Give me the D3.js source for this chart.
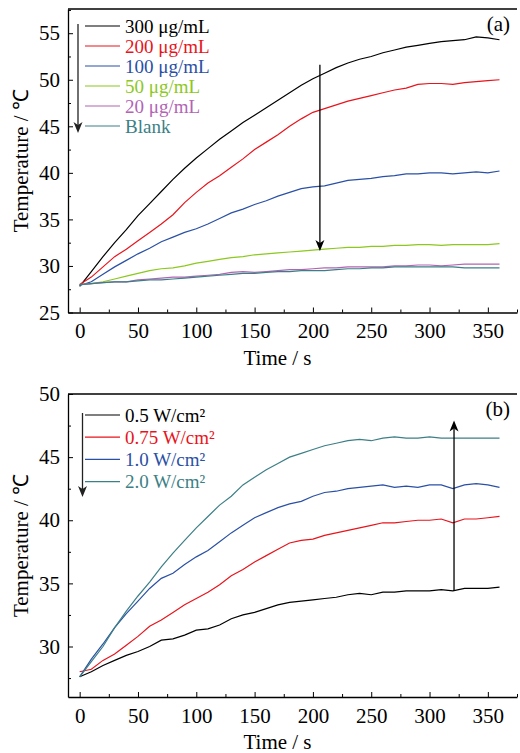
<!DOCTYPE html>
<html>
<head>
<meta charset="utf-8">
<script src="https://d3js.org/d3.v7.min.js"></script>
<style>
  body { margin: 0; background: #fff; }
  svg text { font-family: "Liberation Serif", "Times New Roman", serif; }
</style>
</head>
<body>
<svg id="vis" width="520" height="753"></svg>
<script>
// time axis (s), shared by both panels
var time = [0,10,20,30,40,50,60,70,80,90,100,110,120,130,140,150,160,170,180,190,200,
            210,220,230,240,250,260,270,280,290,300,310,320,330,340,350,360];

// panel (a): concentration series
var namesA = ["300 \u03bcg/mL", "200 \u03bcg/mL", "100 \u03bcg/mL", "50 \u03bcg/mL", "20 \u03bcg/mL", "Blank"];
var colorsA = ["#000000", "#e8141c", "#2a50a5", "#8cc81e", "#b264b4", "#3c7f86"];
var c300 = [27.8,29.4,31.0,32.5,33.9,35.4,36.7,38.0,39.3,40.5,41.6,42.6,43.6,44.5,45.4,46.2,47.0,47.8,48.6,49.4,50.1,
            50.7,51.3,51.8,52.2,52.5,52.9,53.2,53.5,53.7,53.9,54.1,54.2,54.3,54.6,54.5,54.3];
var c200 = [28.0,28.8,29.9,31.0,31.8,32.7,33.6,34.5,35.5,36.8,37.9,38.9,39.7,40.6,41.5,42.5,43.3,44.1,45.0,45.8,46.5,
            46.9,47.3,47.7,48.0,48.3,48.6,48.9,49.1,49.5,49.6,49.6,49.5,49.7,49.8,49.9,50.0];
var c100 = [27.9,28.3,29.1,29.9,30.6,31.3,31.9,32.6,33.1,33.6,34.0,34.5,35.1,35.7,36.1,36.6,37.0,37.5,37.9,38.3,38.5,
            38.6,38.9,39.2,39.3,39.4,39.6,39.7,39.9,39.9,40.0,40.0,39.9,40.0,40.1,40.0,40.2];
var c50  = [28.0,28.1,28.3,28.6,28.9,29.2,29.5,29.7,29.8,30.0,30.3,30.5,30.7,30.9,31.0,31.2,31.3,31.4,31.5,31.6,31.7,
            31.8,31.9,32.0,32.0,32.1,32.1,32.2,32.2,32.3,32.3,32.2,32.3,32.3,32.3,32.3,32.4];
var c20  = [28.0,28.1,28.2,28.3,28.3,28.5,28.6,28.7,28.8,28.8,28.9,29.0,29.1,29.3,29.4,29.3,29.4,29.5,29.6,29.6,29.7,
            29.8,29.8,29.9,29.9,29.9,29.9,30.0,30.0,30.1,30.1,30.0,30.1,30.2,30.2,30.2,30.2];
var blank = [28.0,28.1,28.2,28.3,28.3,28.4,28.5,28.5,28.6,28.7,28.8,28.9,29.0,29.1,29.2,29.2,29.3,29.4,29.4,29.5,29.5,
            29.5,29.6,29.7,29.7,29.8,29.8,29.9,29.9,29.9,29.9,29.9,29.9,29.8,29.8,29.8,29.8];

// panel (b): laser power density series
var namesB = ["0.5 W/cm\u00b2", "0.75 W/cm\u00b2", "1.0 W/cm\u00b2", "2.0 W/cm\u00b2"];
var colorsB = ["#000000", "#e8141c", "#2a50a5", "#3c7f86"];
var p05 = [27.6,28.0,28.5,28.9,29.3,29.6,30.0,30.5,30.6,30.9,31.3,31.4,31.7,32.2,32.5,32.7,33.0,33.3,33.5,33.6,33.7,
           33.8,33.9,34.1,34.2,34.1,34.3,34.3,34.4,34.4,34.4,34.5,34.4,34.6,34.6,34.6,34.7];
var p075 = [28.0,28.2,28.9,29.4,30.1,30.8,31.6,32.1,32.7,33.3,33.8,34.3,34.9,35.6,36.1,36.7,37.2,37.7,38.2,38.4,38.5,
           38.8,39.0,39.2,39.4,39.6,39.8,39.8,39.9,40.0,40.0,40.1,39.8,40.1,40.1,40.2,40.3];
var p10 = [27.6,29.0,30.2,31.5,32.6,33.6,34.6,35.4,35.8,36.5,37.1,37.6,38.3,39.0,39.6,40.2,40.6,41.0,41.3,41.5,41.9,
           42.2,42.3,42.5,42.6,42.7,42.8,42.6,42.7,42.6,42.8,42.8,42.5,42.8,42.9,42.8,42.6];
var p20 = [27.6,28.8,30.0,31.5,32.8,34.0,35.1,36.3,37.4,38.4,39.4,40.3,41.2,41.9,42.8,43.4,44.0,44.5,45.0,45.3,45.6,
           45.9,46.1,46.3,46.4,46.3,46.5,46.6,46.5,46.5,46.6,46.5,46.5,46.5,46.5,46.5,46.5];

var xTicks = [0,50,100,150,200,250,300,350];
var yTicksA = [25,30,35,40,45,50,55];
var yTicksB = [30,35,40,45,50];

var svg = d3.select("#vis");
var left = 68, right = 517;
var fs = 21;

function panel(opt) {
  var x = d3.scaleLinear().domain([-10, 375]).range([left, right]);
  var y = d3.scaleLinear().domain(opt.yDomain).range([opt.bottom, opt.top]);
  var g = svg.append("g");

  // minor ticks
  g.append("g").attr("transform", "translate(0," + opt.bottom + ")")
    .call(d3.axisBottom(x).tickValues(d3.range(25, 376, 50)).tickSize(-3).tickSizeOuter(0).tickFormat(""))
    .call(function(a){ a.select(".domain").remove(); });
  g.append("g").attr("transform", "translate(" + left + ",0)")
    .call(d3.axisLeft(y).tickValues(opt.minor).tickSize(-3).tickSizeOuter(0).tickFormat(""))
    .call(function(a){ a.select(".domain").remove(); });

  // major axes
  g.append("g").attr("transform", "translate(0," + opt.bottom + ")")
    .call(d3.axisBottom(x).tickValues(xTicks).tickSize(-5).tickSizeOuter(0).tickPadding(11));
  g.append("g").attr("transform", "translate(" + left + ",0)")
    .call(d3.axisLeft(y).tickValues(opt.yTicks).tickSize(-5).tickSizeOuter(0).tickPadding(8));
  g.selectAll(".tick line").attr("stroke", "#000").attr("stroke-width", 1);
  g.selectAll(".domain").attr("stroke", "#000").attr("stroke-width", 1.3);
  g.selectAll(".tick text").attr("font-size", fs).attr("font-family", "Liberation Serif").attr("fill", "#000");

  // top frame line
  g.append("line").attr("x1", left).attr("x2", right).attr("y1", opt.top).attr("y2", opt.top)
    .attr("stroke", "#000").attr("stroke-width", 1.3);

  // curves
  var line = d3.line().x(function(d){ return x(d[0]); }).y(function(d){ return y(d[1]); });
  opt.series.forEach(function(s, i) {
    g.append("path")
      .datum(time.map(function(t, k){ return [t, s[k]]; }))
      .attr("d", line).attr("fill", "none")
      .attr("stroke", opt.colors[i]).attr("stroke-width", 1.2);
  });

  // annotation arrow inside plot
  var ax = x(opt.arrow[0]), ay1 = y(opt.arrow[1]), ay2 = y(opt.arrow[2]);
  var dir = ay2 > ay1 ? 1 : -1;
  g.append("line").attr("x1", ax).attr("x2", ax).attr("y1", ay1).attr("y2", ay2 - dir * 8)
    .attr("stroke", "#000").attr("stroke-width", 1.3);
  g.append("path")
    .attr("d", "M" + ax + "," + ay2 + "L" + (ax - 4.5) + "," + (ay2 - dir * 11) + "L" + ax + "," + (ay2 - dir * 8) +
               "L" + (ax + 4.5) + "," + (ay2 - dir * 11) + "Z")
    .attr("fill", "#000");

  // legend
  var lg = g.append("g");
  opt.names.forEach(function(n, i) {
    var ly = opt.legY + i * opt.legStep;
    lg.append("line").attr("x1", 85).attr("x2", 120).attr("y1", ly).attr("y2", ly)
      .attr("stroke", opt.colors[i]).attr("stroke-width", 1.2);
    lg.append("text").attr("x", 125).attr("y", ly + 6.5).attr("font-size", 19)
      .attr("fill", opt.colors[i]).text(n);
  });
  var lx = opt.legArrowX, la1 = opt.legY - 2, la2 = opt.legArrowEnd;
  lg.append("line").attr("x1", lx).attr("x2", lx).attr("y1", la1).attr("y2", la2 - 8)
    .attr("stroke", "#222").attr("stroke-width", 1.3);
  lg.append("path")
    .attr("d", "M" + lx + "," + la2 + "L" + (lx - 4.5) + "," + (la2 - 11) + "L" + lx + "," + (la2 - 8) +
               "L" + (lx + 4.5) + "," + (la2 - 11) + "Z")
    .attr("fill", "#222");

  // panel label
  g.append("text").attr("x", 510).attr("y", opt.top + 22).attr("text-anchor", "end")
    .attr("font-size", fs).text(opt.label);

  // axis titles
  g.append("text").attr("x", (left + right) / 2 - 15).attr("y", opt.bottom + 52)
    .attr("text-anchor", "middle").attr("font-size", fs).text("Time / s");
  g.append("text")
    .attr("transform", "translate(28," + ((opt.top + opt.bottom) / 2) + ") rotate(-90)")
    .attr("text-anchor", "middle").attr("font-size", fs).text("Temperature / \u2103");
}

panel({
  top: 9, bottom: 312.5, yDomain: [25, 57.6], yTicks: yTicksA,
  minor: [27.5, 32.5, 37.5, 42.5, 47.5, 52.5, 57.5],
  series: [c300, c200, c100, c50, c20, blank], names: namesA, colors: colorsA,
  arrow: [206, 51.6, 31.6],
  legY: 26, legStep: 20, legArrowX: 78, legArrowEnd: 133, label: "(a)"
});

panel({
  top: 394, bottom: 697, yDomain: [26, 50], yTicks: yTicksB,
  minor: [27.5, 32.5, 37.5, 42.5, 47.5],
  series: [p05, p075, p10, p20], names: namesB, colors: colorsB,
  arrow: [321, 34.4, 47.9],
  legY: 415, legStep: 22.2, legArrowX: 82.5, legArrowEnd: 497, label: "(b)"
});
</script>
</body>
</html>
